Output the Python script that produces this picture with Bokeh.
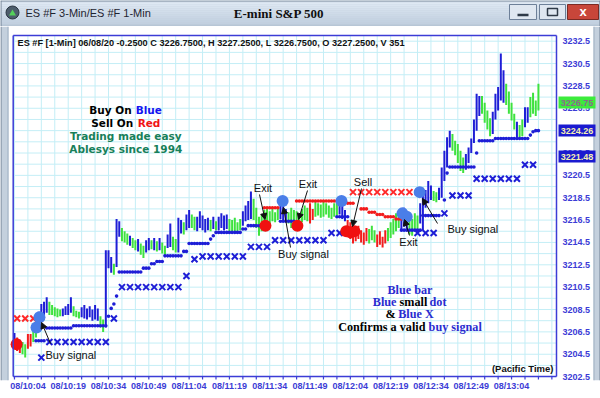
from bokeh.plotting import figure
from bokeh.layouts import column
from bokeh.models import Range1d, FixedTicker, Arrow, NormalHead
from bokeh.core.properties import value
from bokeh.embed import file_html
from bokeh.resources import INLINE

# ---------------- data (minutes after 10:04, prices) ----------------
bar_start_minute = -5
bar_low = [
    3205.3, 3204.8, 3204.6, 3204.5, 3204.2, 3205.0, 3205.2, 3205.6, 3206.0, 3206.8,
    3207.6, 3208.0, 3208.2, 3208.0, 3208.0, 3207.9, 3207.8, 3207.9, 3207.9, 3208.0,
    3208.0, 3208.2, 3207.9, 3207.8, 3207.7, 3207.8, 3207.7, 3207.6, 3207.8, 3207.5,
    3207.6, 3207.5, 3206.9, 3206.5, 3206.9, 3212.2, 3211.8, 3211.6, 3212.3, 3215.0,
    3214.6, 3214.5, 3214.3, 3214.2, 3214.0, 3213.8, 3213.7, 3213.4, 3213.1, 3213.6,
    3213.8, 3213.9, 3213.8, 3213.7, 3213.8, 3213.5, 3213.3, 3214.0, 3214.1, 3213.8,
    3213.6, 3213.6, 3215.3, 3215.2, 3215.6, 3215.8, 3215.8, 3215.6, 3215.5, 3215.8,
    3215.6, 3215.4, 3215.6, 3215.5, 3215.7, 3215.6, 3215.6, 3215.8, 3215.6, 3215.7,
    3215.5, 3215.4, 3215.5, 3215.4, 3215.6, 3216.0, 3216.4, 3216.5, 3216.6, 3216.5,
    3215.8, 3215.1, 3215.5, 3216.2, 3216.4, 3216.2, 3216.4, 3216.3, 3216.5, 3216.6,
    3216.5, 3216.4, 3216.2, 3215.8, 3216.0, 3216.2, 3216.0, 3216.3, 3216.5, 3216.4,
    3216.2, 3216.5, 3216.8, 3216.9, 3216.7, 3216.8, 3217.0, 3216.7, 3216.6, 3216.8,
    3216.9, 3217.0, 3216.6, 3216.4, 3215.6, 3214.8, 3214.4, 3214.6, 3214.8, 3214.5,
    3214.3, 3214.6, 3214.4, 3214.7, 3214.5, 3214.1, 3214.3, 3214.05, 3214.4, 3214.6,
    3214.9, 3215.2, 3215.5, 3215.8, 3215.6, 3215.9, 3215.6, 3215.2, 3215.1, 3215.5,
    3215.7, 3216.2, 3215.6, 3217.6, 3218.0, 3218.3, 3218.2, 3218.1, 3218.3, 3218.5,
    3220.0, 3221.2, 3223.0, 3222.7, 3222.3, 3221.6, 3220.9, 3220.7, 3221.0, 3221.6,
    3222.5, 3223.4, 3224.5, 3225.8, 3226.0, 3225.2, 3224.6, 3224.0, 3224.2, 3225.5,
    3226.3, 3227.2, 3227.0, 3226.8, 3226.0, 3225.4, 3224.6, 3223.9, 3223.9, 3224.0,
    3224.8, 3225.2, 3225.7, 3226.0, 3225.8, 3226.3,
]
bar_high = [
    3206.4, 3206.0, 3205.8, 3205.6, 3205.4, 3206.3, 3206.3, 3206.8, 3207.2, 3208.3,
    3209.0, 3209.2, 3209.6, 3209.2, 3208.9, 3208.7, 3208.6, 3208.5, 3208.6, 3208.8,
    3209.0, 3209.6, 3208.8, 3208.4, 3208.3, 3208.7, 3208.9, 3208.6, 3208.8, 3208.5,
    3208.9, 3208.6, 3207.9, 3207.6, 3213.8, 3213.8, 3213.2, 3212.6, 3216.6, 3216.4,
    3215.8, 3215.5, 3215.3, 3215.1, 3214.9, 3214.7, 3214.8, 3214.4, 3214.2, 3214.7,
    3214.9, 3214.7, 3214.9, 3214.6, 3214.9, 3214.5, 3214.2, 3215.2, 3216.2, 3215.0,
    3214.8, 3216.7, 3216.5, 3216.3, 3217.0, 3217.4, 3217.0, 3216.8, 3216.8, 3217.3,
    3216.9, 3216.6, 3216.7, 3216.5, 3216.8, 3216.4, 3216.8, 3217.1, 3216.9, 3217.0,
    3216.6, 3216.5, 3216.7, 3216.3, 3216.6, 3217.3, 3217.8, 3218.2, 3219.05, 3218.4,
    3217.6, 3216.8, 3217.0, 3217.4, 3217.6, 3217.3, 3217.5, 3217.2, 3217.6, 3217.9,
    3218.0, 3217.5, 3217.2, 3217.6, 3217.4, 3217.3, 3217.0, 3217.5, 3217.8, 3217.6,
    3218.0, 3217.5, 3218.2, 3218.0, 3217.9, 3218.2, 3218.0, 3217.8, 3217.6, 3218.0,
    3218.2, 3218.4, 3218.2, 3217.4, 3216.5, 3216.3, 3215.8, 3215.9, 3216.0, 3215.6,
    3215.4, 3215.8, 3215.7, 3216.0, 3215.6, 3215.2, 3215.5, 3215.0, 3215.6, 3215.8,
    3216.3, 3216.6, 3217.1, 3216.9, 3217.3, 3217.6, 3216.8, 3216.4, 3216.6, 3217.1,
    3216.9, 3218.0, 3219.4, 3219.2, 3220.0, 3219.6, 3219.1, 3219.0, 3219.4, 3221.2,
    3222.7, 3223.9, 3224.5, 3224.2, 3223.6, 3223.3, 3222.7, 3222.1, 3222.4, 3223.0,
    3223.8, 3225.5, 3227.8, 3227.6, 3227.6, 3227.0, 3226.3, 3225.6, 3226.2, 3227.8,
    3228.4, 3231.4, 3229.9, 3228.7, 3228.0, 3227.0, 3226.0, 3225.3, 3225.0, 3225.5,
    3226.6, 3226.6, 3227.5, 3227.9, 3227.2, 3228.7,
]
bar_kind = (
    "BRRGGRRGGB" "BBBGGGGGBB" "BBGGGBBBBB" "BBGGBBBGBB" "GGGBGGBGGB"
    "BGBGBGGBBG" "GBBGBBGGBB" "BBBGBGBBBB" "GGGGGBBBBG" "GGGGGGGGGB"
    "BBGGGGGGGG" "RRGGGGGGGG" "GBBBRRRRRR" "RRGGGRRRRG" "GGGGBBBGGG"
    "GBBBBBGGBB" "BBBGGGGGBB" "BBBBGGGGBB" "BBBGGGGBGG" "BBGGGG"
)

# blue stop dots: runs of minutes at one level
blue_dot_start = [3, 7, 17, 30, 31, 32, 33, 34, 43, 46, 48, 51, 58, 60, 68, 69, 70, 80, 82, 94,
                  115, 139, 147, 155, 156, 157, 167, 168, 174, 187, 188, 189]
blue_dot_end = [6, 16, 29, 30, 31, 32, 33, 42, 45, 47, 50, 57, 59, 67, 68, 69, 79, 81, 87, 99,
                119, 146, 153, 155, 156, 166, 167, 173, 186, 187, 188, 190]
blue_dot_level = [3205.7, 3206.85, 3207.05, 3207.9, 3208.6, 3209.0, 3209.7, 3211.85, 3212.2, 3212.6,
                  3212.8, 3213.3, 3213.7, 3214.4, 3214.8, 3215.1, 3215.4, 3215.7, 3216.0, 3216.4,
                  3216.8, 3215.6, 3216.9, 3218.3, 3220.7, 3221.25, 3222.5, 3223.6, 3223.8, 3224.1,
                  3224.4, 3224.5]
red_dot_start = [88, 100, 119, 124, 127, 130, 133, 137]
red_dot_end = [93, 115, 121, 126, 129, 132, 136, 139]
red_dot_level = [3217.6, 3218.2, 3218.0, 3217.5, 3217.2, 3217.0, 3216.8, 3216.6]

# X markers (3-minute signals)
blue_x_minute = [5, 8, 11, 14, 17, 20, 23, 26, 29, 32, 35, 38, 41, 44, 47, 50, 53, 56, 59, 62,
                 65, 68, 71, 74, 77, 80, 83, 86, 89, 92, 95, 98, 101, 104, 107, 110, 113, 116,
                 145, 148, 151, 155, 158, 161, 164, 167, 170, 173, 176, 179, 182, 185, 188]
blue_x_level = [3204.2, 3205.6, 3205.6, 3205.6, 3205.6, 3205.6, 3205.6, 3205.6, 3205.6, 3207.7,
                3210.5, 3210.5, 3210.5, 3210.5, 3210.5, 3210.5, 3210.5, 3210.5, 3211.5, 3213.0,
                3213.25, 3213.25, 3213.25, 3213.25, 3213.25, 3213.25, 3214.1, 3214.1, 3214.1,
                3214.7, 3214.7, 3214.7, 3214.7, 3214.7, 3214.7, 3214.7, 3215.35, 3215.35,
                3215.35, 3215.35, 3215.35, 3217.1, 3218.7, 3218.7, 3218.7, 3220.2, 3220.2,
                3220.2, 3220.2, 3220.2, 3220.2, 3221.45, 3221.45]
red_x_minute = [-4, -1, 2, 121, 124, 127, 130, 133, 136, 139, 142]
red_x_level = [3207.7, 3207.7, 3207.7, 3219.0, 3219.0, 3219.0, 3219.0, 3219.0, 3219.0, 3219.0, 3219.0]

# big signal dots
red_big_minute = [-4.2, 88.4, 100.3, 118.5, 120.0, 121.5]
red_big_level = [3205.4, 3216.0, 3216.0, 3215.5, 3215.4, 3215.5]
blue_big_minute = [3.2, 4.3, 94.8, 116.7, 139.4, 141.0, 145.8]
blue_big_level = [3206.9, 3207.8, 3218.2, 3218.2, 3217.1, 3216.8, 3219.0]

# axes
x_tick_minutes = [0, 15, 30, 45, 60, 75, 90, 105, 120, 135, 150, 165, 180]
x_tick_labels = ["08/10:04", "08/10:19", "08/10:34", "08/10:49", "08/11:04", "08/11:19", "08/11:34",
                 "08/11:49", "08/12:04", "08/12:19", "08/12:34", "08/12:49", "08/13:04"]
x_minor_minutes = list(range(-5, 196, 5))
y_ticks = [3202.5 + 2 * i for i in range(16)]
y_tick_labels = ["%.1f" % v for v in y_ticks]
y_grid = [3202.5 + i for i in range(31)]

last_values = ["3226.75", "3224.26", "3221.48"]

# ---------------- layout helpers (reference pixel -> data) ----------------
X0_PX, PX_PER_MIN = 27.4, 2.687
Y0_PX, PX_PER_PT = 40.7, 11.18
def mx(px):
    return (px - X0_PX) / PX_PER_MIN
def py(px):
    return 3232.5 - (px - Y0_PX) / PX_PER_PT

BLUE = "#1e1ed6"
GREEN = "#3ee23e"
RED = "#f21c1c"
AXIS_BLUE = "#3c3cd6"
WIN = "#c4d0dd"
WIN_DARK = "#6f7f92"

# ---------------- title bar (page pixels) ----------------
t = figure(width=600, height=26, x_range=Range1d(0, 600), y_range=Range1d(26, 0),
           output_backend="svg", toolbar_location=None, x_axis_type=None, y_axis_type=None,
           min_border=0, outline_line_color=None)
t.background_fill_color = WIN
t.border_fill_color = WIN
band_cols = ["#e1eaf4", "#dee8f3", "#dbe5f1", "#d8e3ef", "#d5e0ed", "#d2deeb", "#cfdbe9",
             "#ccd9e7", "#c9d6e5", "#c6d4e3", "#c4d2e2", "#c2d0e0"]
for i, c in enumerate(band_cols):
    t.quad(left=0, right=600, top=i * 2, bottom=i * 2 + 2, fill_color=c, line_color=None)
t.quad(left=0, right=600, top=24, bottom=26, fill_color="#b7c6d6", line_color=None)
t.segment(x0=[0, 0.5, 599.5], y0=[0.5, 0, 0], x1=[600, 0.5, 599.5], y1=[0.5, 26, 26],
          line_color=WIN_DARK, line_width=1)
t.scatter([12], [12], marker="circle", size=13, fill_color="#4e5d6c", line_color="#2b3642")
t.scatter([12], [13], marker="triangle", size=7, fill_color="#54d05a", line_color=None)
t.text(x=[25], y=[12.5], text=["ES #F 3-Min/ES #F 1-Min"], text_font=value("Liberation Sans"),
       text_font_size="11px", text_color="#1e2430", text_baseline="middle", text_align="left")
t.text(x=[278.5], y=[12.5], text=["E-mini S&P 500"], text_font=value("Liberation Serif"),
       text_font_style="bold", text_font_size="13px", text_color="#101010",
       text_baseline="middle", text_align="center")
t.quad(left=[509, 539], right=[536, 565], top=[4, 4], bottom=[19, 19], fill_color="#dfe7f1",
       line_color="#6d8099")
t.quad(left=[567], right=[598], top=[4], bottom=[19], fill_color="#c8463a", line_color="#7a2a24")
t.segment(x0=[517], y0=[14.5], x1=[528], y1=[14.5], line_color="#2e3a48", line_width=2.5)
t.quad(left=[547], right=[557], top=[8], bottom=[15], fill_color=None, line_color="#2e3a48",
       line_width=1.5)
t.text(x=[582.5], y=[11], text=["x"], text_font=value("Liberation Sans"), text_font_style="bold",
       text_font_size="13px", text_color="white", text_align="center", text_baseline="middle")

# ---------------- chart (frame covers page x 0..600, y 26..380) ----------------
p = figure(width=600, height=368, x_range=Range1d(mx(0), mx(600)), y_range=Range1d(py(380), py(26)),
           output_backend="svg", toolbar_location=None, y_axis_location=None,
           min_border_left=0, min_border_right=0, min_border_top=0, min_border_bottom=14)
p.background_fill_color = "white"
p.border_fill_color = "white"
p.outline_line_color = None
p.xgrid.visible = False
p.ygrid.visible = False

xa = p.xaxis[0]
xa.ticker = FixedTicker(ticks=x_tick_minutes, minor_ticks=x_minor_minutes)
xa.major_label_overrides = {m: lab for m, lab in zip(x_tick_minutes, x_tick_labels)}
xa.axis_line_color = None
xa.major_tick_line_color = None
xa.minor_tick_line_color = None
xa.major_tick_in = 0
xa.major_tick_out = 0
xa.minor_tick_in = 0
xa.minor_tick_out = 0
xa.major_label_standoff = 0
xa.major_label_text_font = "Liberation Sans"
xa.major_label_text_font_size = "9px"
xa.major_label_text_font_style = "bold"
xa.major_label_text_color = AXIS_BLUE

# window side borders
p.quad(left=[mx(0), mx(593)], right=[mx(8), mx(600)], bottom=py(380), top=py(26),
       fill_color=WIN, line_color=None)
p.segment(x0=[mx(0.5), mx(599.5), mx(7.5), mx(593.5)], x1=[mx(0.5), mx(599.5), mx(7.5), mx(593.5)],
          y0=py(380), y1=py(26), line_color=[WIN_DARK, WIN_DARK, "#9fb0c2", "#9fb0c2"], line_width=1)

# chart grid
cx0, cx1 = mx(12.7), mx(556)
cy0, cy1 = py(376), py(35)
p.segment(x0=x_minor_minutes, x1=x_minor_minutes, y0=cy0, y1=cy1, line_color="#c4eef6", line_width=1)
p.segment(x0=cx0, x1=cx1, y0=y_grid, y1=y_grid, line_color="#c4eef6", line_width=1)

# signal dots / X markers
bd_x, bd_y = [], []
for s, e, lv in zip(blue_dot_start, blue_dot_end, blue_dot_level):
    for m in range(s, e + 1):
        bd_x.append(m)
        bd_y.append(lv)
rd_x, rd_y = [], []
for s, e, lv in zip(red_dot_start, red_dot_end, red_dot_level):
    for m in range(s, e + 1):
        rd_x.append(m)
        rd_y.append(lv)

p.scatter(blue_x_minute, blue_x_level, marker="x", size=8.5, line_width=2, line_color=BLUE)
p.scatter(red_x_minute, red_x_level, marker="x", size=8.5, line_width=2, line_color="#ff2a2a")

# price bars
bar_minute = [bar_start_minute + i for i in range(len(bar_low))]
cmap = {"B": BLUE, "G": GREEN, "R": RED}
p.segment(x0=bar_minute, y0=bar_low, x1=bar_minute, y1=bar_high,
          line_color=[cmap[k] for k in bar_kind], line_width=2)

p.scatter(bd_x, bd_y, marker="circle", size=3.6, fill_color=BLUE, line_color=None)
p.scatter(rd_x, rd_y, marker="circle", size=3.6, fill_color=RED, line_color=None)
p.scatter(red_big_minute, red_big_level, marker="circle", size=12, fill_color="#f01010", line_color=None)
p.scatter(blue_big_minute, blue_big_level, marker="circle", size=12, fill_color="#4a7ee8", line_color=None)

# chart border (top, left, right, bottom axis line) and time-axis ticks
p.segment(x0=[cx0, cx0, cx1, cx0], x1=[cx1, cx0, cx1, cx1], y0=[cy1, cy0, cy0, cy0],
          y1=[cy1, cy1, cy1, cy0], line_color=AXIS_BLUE, line_width=1.5)
p.segment(x0=x_minor_minutes, x1=x_minor_minutes, y0=cy0, y1=py(379), line_color=AXIS_BLUE,
          line_width=1.2)

# header
p.text(x=[mx(17)], y=[py(42.5)],
       text=["ES #F [1-Min] 06/08/20  -0.2500 C 3226.7500, H 3227.2500, L 3226.7500, O 3227.2500, V 351"],
       text_font=value("Liberation Sans"), text_font_style="bold", text_font_size="9.2px",
       text_color="#111111", text_align="left", text_baseline="middle")

# left promo text
promo = dict(text_font=value("DejaVu Sans"), text_font_style="bold", text_font_size="10.5px",
             text_baseline="middle", text_align="center")
p.text(x=[mx(110), mx(111.7)], y=[py(109.3), py(122.3)], text=["Buy On", "Sell On"],
       text_color="#000000", **promo)
p.text(x=[mx(148.3)], y=[py(109.3)], text=["Blue"], text_color="#1414f0", **promo)
p.text(x=[mx(148.5)], y=[py(122.3)], text=["Red"], text_color="#f01414", **promo)
p.text(x=[mx(125.3), mx(125.3)], y=[py(135.7), py(148.7)],
       text=["Trading made easy", "Ablesys since 1994"], text_color="#17805a", **promo)

# right explanation text
ser = dict(text_font=value("Liberation Serif"), text_font_style="bold", text_font_size="12.2px",
           text_baseline="middle", text_align="center")
TB = "#2b2bd0"
p.text(x=[mx(409.5), mx(384.1), mx(437.5), mx(415.5), mx(454.7)],
       y=[py(289), py(301), py(301), py(313.3), py(326)],
       text=["Blue bar", "Blue", "dot", "Blue X", "buy signal"], text_color=TB, **ser)
p.text(x=[mx(412.9), mx(390.2), mx(381.3)], y=[py(301), py(313.3), py(326)],
       text=["small", "&", "Confirms a valid"], text_color="#000000", **ser)

p.text(x=[mx(553)], y=[py(368)], text=["(Pacific Time)"], text_font=value("Liberation Sans"),
       text_font_style="bold", text_font_size="9.5px", text_color="#111111",
       text_align="right", text_baseline="middle")

# signal annotations
ann = dict(text_font=value("Liberation Sans"), text_font_size="11px", text_color="#111111",
           text_baseline="middle")
p.text(x=[mx(262.5), mx(307.5), mx(362.5), mx(408), mx(303)],
       y=[py(187), py(183), py(181), py(241), py(253)],
       text=["Exit", "Exit", "Sell", "Exit", "Buy signal"], text_align="center", **ann)
p.text(x=[mx(45), mx(447)], y=[py(354), py(228)], text=["Buy signal", "Buy signal"],
       text_align="left", **ann)

# price scale labels (right side)
p.text(x=mx(562), y=y_ticks, text=y_tick_labels, text_font=value("Liberation Sans"),
       text_font_style="bold", text_font_size="9px", text_color=AXIS_BLUE,
       text_align="left", text_baseline="middle")

# last-value boxes on the price scale
box_fill = ["#3cec3c", "#1a1ad0", "#1a1ad0"]
box_text = ["#8a6a8a", "#f4f0b0", "#f4f0b0"]
box_ypx = [102, 130, 156]
p.quad(left=mx(558), right=mx(595), top=[py(y - 6) for y in box_ypx], bottom=[py(y + 6) for y in box_ypx],
       fill_color=box_fill, line_color=None)
p.text(x=mx(576.5), y=[py(y) for y in box_ypx], text=last_values, text_font=value("Liberation Sans"),
       text_font_style="bold", text_font_size="9px", text_color=box_text,
       text_align="center", text_baseline="middle")

arrows = [((50, 343), (41, 322)), ((259, 194), (264.5, 219)), ((290, 247), (283, 207)),
          ((307, 190), (298, 219)), ((361, 188), (352, 226)), ((409, 235), (404, 219)),
          ((437, 223), (422, 198))]
for (x0, y0), (x1, y1) in arrows:
    p.add_layout(Arrow(x_start=mx(x0), y_start=py(y0), x_end=mx(x1), y_end=py(y1),
                       line_color="#111111", line_width=1,
                       end=NormalHead(size=6, fill_color="#111111", line_color="#111111")))

# ---------------- bottom window border ----------------
b = figure(width=600, height=4, x_range=Range1d(0, 600), y_range=Range1d(4, 0),
           output_backend="svg", toolbar_location=None, x_axis_type=None, y_axis_type=None,
           min_border=0, outline_line_color=None)
b.background_fill_color = WIN
b.border_fill_color = WIN
b.segment(x0=[0, 0.5, 599.5], y0=[3.5, 0, 0], x1=[600, 0.5, 599.5], y1=[3.5, 4, 4],
          line_color=WIN_DARK, line_width=1)

layout = column(t, p, b, spacing=0)
open("out.html", "w").write(file_html(layout, INLINE))
